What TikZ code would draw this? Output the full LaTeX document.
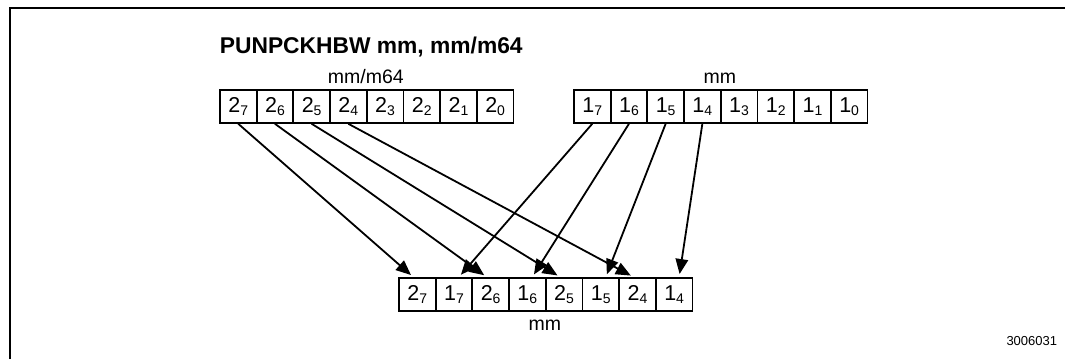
\documentclass[tikz,border=0pt]{standalone}
\usepackage{fontspec}
\setmainfont{Liberation Sans}
\usetikzlibrary{arrows.meta}
\newcommand\cellt[2]{#1\raisebox{-3pt}{\fontsize{14}{14}\selectfont #2}}
\begin{document}
\begin{tikzpicture}[x=1pt,y=-1pt,line width=1.8pt,
  cell/.style={draw, minimum width=36.7pt, minimum height=33pt, inner sep=0pt,
    font=\fontsize{21.5}{21.5}\selectfont, anchor=north west},
  lbl/.style={inner sep=0pt, anchor=base, font=\fontsize{19.5}{19.5}\selectfont},
  arr/.style={-{Triangle[length=15pt,width=12.5pt]}, shorten >=3pt}]
\useasboundingbox (0,0) rectangle (1065,359);
\draw[line width=2pt] (10,359) -- (10,8) -- (1065,8);
% title and labels
\node[inner sep=0pt, anchor=base west, font=\fontsize{22.8}{22.8}\selectfont\bfseries] (title) at (219,53.3) {PUNPCKHBW mm, mm/m64};
\node[lbl] (lsrc) at (365.8,83) {mm/m64};
\node[lbl] (ldst) at (719.8,83) {mm};
\node[lbl] (lres) at (544.8,330) {mm};
\node[inner sep=0pt, anchor=base east, font=\fontsize{13}{13}\selectfont] (fig) at (1058,345) {3006031};
% source cells
\foreach \i [count=\k from 0] in {7,6,5,4,3,2,1,0}
  \node[cell] (s\i) at ({219+36.7*\k},89) {\cellt{2}{\i}};
% destination cells
\foreach \i [count=\k from 0] in {7,6,5,4,3,2,1,0}
  \node[cell] (d\i) at ({573+36.7*\k},89) {\cellt{1}{\i}};
% result cells
\foreach \a/\b [count=\k from 0] in {2/7,1/7,2/6,1/6,2/5,1/5,2/4,1/4}
  \node[cell] (r\k) at ({398+36.7*\k},277) {\cellt{\a}{\b}};
% arrows
\draw[arr] (s7.south) -- ([xshift=-4pt]r0.north);
\draw[arr] (s6.south) -- ([xshift=-4pt]r2.north);
\draw[arr] (s5.south) -- ([xshift=-4pt]r4.north);
\draw[arr] (s4.south) -- ([xshift=-4pt]r6.north);
\draw[arr] (d7.south) -- ([xshift=5pt]r1.north);
\draw[arr] (d6.south) -- ([xshift=5pt]r3.north);
\draw[arr] (d5.south) -- ([xshift=5pt]r5.north);
\draw[arr] (d4.south) -- ([xshift=5pt]r7.north);
\end{tikzpicture}
\end{document}
